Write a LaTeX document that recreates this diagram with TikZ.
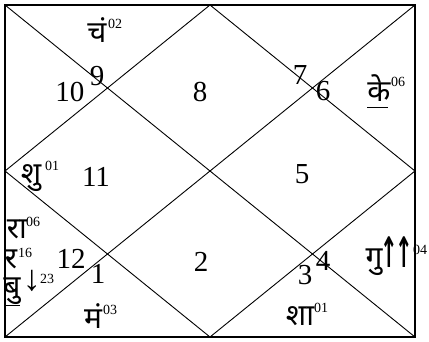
\documentclass[tikz,border=0pt]{standalone}
\usepackage{fontspec}
\setmainfont{Liberation Serif}
\newfontfamily\deva[Script=Devanagari]{Noto Sans}
\newfontfamily\dejavu{DejaVu Sans}
\begin{document}
\begin{tikzpicture}[x=1pt,y=-1pt,
  num/.style={font=\fontsize{29}{29}\selectfont, inner sep=0pt},
  pl/.style={font=\deva\fontsize{30}{30}\selectfont, inner sep=0pt},
  deg/.style={font=\fontsize{14}{14}\selectfont, inner sep=0pt, anchor=west},
  frame/.style={line width=1.6pt},
  thinline/.style={line width=0.9pt},
  uline/.style={line width=0.9pt}]
\useasboundingbox (0,0) rectangle (429,342);
% frame points
\coordinate (A) at (5,5);
\coordinate (B) at (415,5);
\coordinate (C) at (415,337);
\coordinate (D) at (5,337);
\coordinate (T) at (210,5);
\coordinate (R) at (415,171);
\coordinate (Bm) at (210,337);
\coordinate (L) at (5,171);
\draw[thinline] (A) -- (C);
\draw[thinline] (B) -- (D);
\draw[thinline] (T) -- (R) -- (Bm) -- (L) -- cycle;
\draw[frame] (A) rectangle (C);
% sign numbers
\node[num] (n10) at (70,92) {10};
\node[num] (n9) at (97,76) {9};
\node[num] (n8) at (200,92) {8};
\node[num] (n7) at (300,75) {7};
\node[num] (n6) at (323,91) {6};
\node[num] (n11) at (96,177) {11};
\node[num] (n5) at (302,174) {5};
\node[num] (n12) at (71,259) {12};
\node[num] (n1) at (98,274) {1};
\node[num] (n2) at (201,262) {2};
\node[num] (n3) at (305,275) {3};
\node[num] (n4) at (323,261) {4};
% planets
\node[pl] (ch) at (97,30) {चं};
\node[deg] (chd) at (108,24) {02};
\node[pl] (ke) at (379,88) {के};
\node[deg] (ked) at (391,82) {06};
\draw[uline] (367,107) coordinate (ke1) -- (388,107) coordinate (ke2);
\node[pl] (shu) at (31,178) {शु};
\node[deg] (shud) at (45,166) {01};
\node[pl] (ra) at (17,229) {रा};
\node[deg] (rad) at (26,222) {06};
\node[pl] (ravi) at (11,259) {र};
\node[deg] (ravid) at (18,253) {16};
\draw[uline] (5,278) coordinate (r1) -- (20,278) coordinate (r2);
\node[pl] (bu) at (12,291) {बु};
\node[font=\fontsize{36}{36}\selectfont, inner sep=0pt] (bua) at (32,281) {↓};
\node[deg] (bud) at (40,279) {23};
\draw[uline] (5,305) coordinate (b1) -- (20,305) coordinate (b2);
\node[pl] (ma) at (93,316) {मं};
\node[deg] (mad) at (103,310) {03};
\node[pl] (sha) at (300,316) {शा};
\node[deg] (shad) at (314,308) {01};
\node[pl] (gu) at (374,262) {गु};
\node[font=\dejavu\bfseries\fontsize{42}{42}\selectfont, inner sep=0pt, xscale=0.5] (gua) at (397,252) {↑\kern-0.15em↑};
\node[deg] (gud) at (413,250) {04};
\end{tikzpicture}
\end{document}
